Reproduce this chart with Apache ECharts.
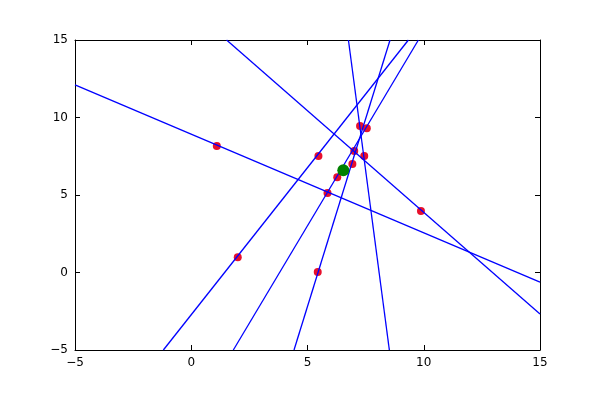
<!DOCTYPE html>
<html>
<head>
<meta charset="utf-8">
<script src="https://cdn.jsdelivr.net/npm/echarts@6/dist/echarts.min.js"></script>
<style>html,body{margin:0;padding:0;background:#fff}#c{width:600px;height:400px}</style>
</head>
<body>
<div id="c"></div>
<script>
// Tick values
var xTicks = [-5, 0, 5, 10, 15];
var yTicks = [-5, 0, 5, 10, 15];

// Line endpoints (data units) where each line meets the plot border
var lineStartX = [-5, 1.52, 6.76, -1.20, 1.81, 4.42];
var lineStartY = [12.1, 15, 15, -5, -5, -5];
var lineEndX   = [15, 15, 8.52, 9.34, 9.77, 8.55];
var lineEndY   = [-0.62, -2.68, -5, 15, 15, 15];

// Red points
var pointX = [1.10, 5.47, 2.00, 5.44, 5.86, 6.28, 6.93, 7.01, 7.44, 7.26, 7.55, 9.88];
var pointY = [8.16, 7.52, 0.98, 0.03, 5.13, 6.14, 7.00, 7.84, 7.52, 9.45, 9.30, 3.97];

// Green point
var centerX = [6.54];
var centerY = [6.59];

var fontFam = 'DejaVu Sans';
function fmt(v){ return String(v).replace('-', '\u2212'); }

var series = [];
series.push({
  type: 'scatter', xAxisIndex: 0, yAxisIndex: 0, z: 2,
  symbolSize: 8,
  itemStyle: { color: '#e8102c', opacity: 1 },
  data: pointX.map(function(x, i){ return [x, pointY[i]]; }),
  silent: true
});
for (var i = 0; i < lineStartX.length; i++) {
  series.push({
    type: 'line', xAxisIndex: 0, yAxisIndex: 0, z: 3,
    symbol: 'none',
    lineStyle: { color: '#0000ff', width: 1.3 },
    data: [[lineStartX[i], lineStartY[i]], [lineEndX[i], lineEndY[i]]],
    silent: true, animation: false
  });
}
series.push({
  type: 'scatter', xAxisIndex: 0, yAxisIndex: 0, z: 4,
  symbolSize: 12,
  itemStyle: { color: '#008000', opacity: 1 },
  data: centerX.map(function(x, i){ return [x, centerY[i]]; }),
  silent: true
});

function axisBase(pos, showLabel, isX) {
  return {
    type: 'value', position: pos,
    min: -5, max: 15, interval: 5,
    axisLine: { show: true, onZero: false, lineStyle: { color: '#000', width: 1 } },
    axisTick: { show: true, inside: true, length: 5, lineStyle: { color: '#000', width: 1 } },
    axisLabel: { show: showLabel, color: '#000', fontFamily: fontFam, fontSize: 12, margin: 7, formatter: fmt },
    splitLine: { show: false }
  };
}

var chart = echarts.init(document.getElementById('c'), null, { renderer: 'canvas' });
chart.setOption({
  animation: false,
  backgroundColor: '#fff',
  grid: { left: 75, right: 60, top: 40, bottom: 50, containLabel: false },
  xAxis: [axisBase('bottom', true, true), axisBase('top', false, true)],
  yAxis: [axisBase('left', true, false), axisBase('right', false, false)],
  series: series
});
</script>
</body>
</html>
